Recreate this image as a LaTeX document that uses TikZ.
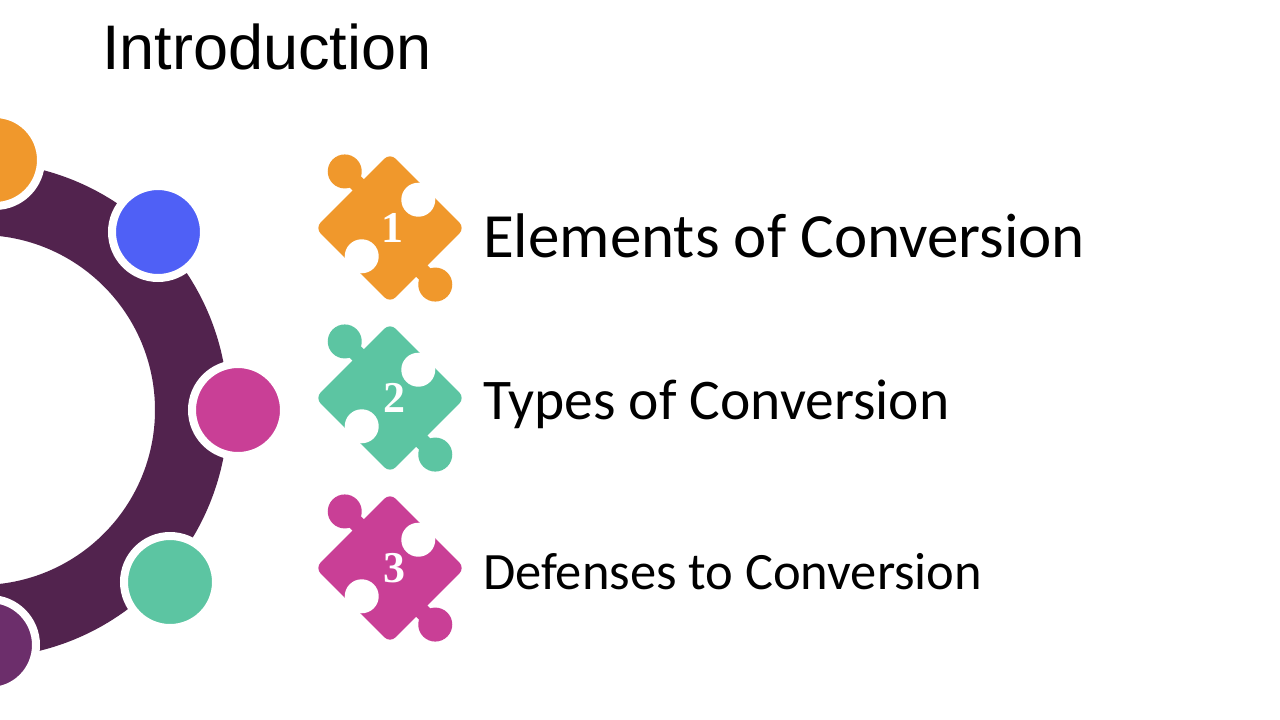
\documentclass[tikz,border=0pt]{standalone}
\usepackage{fontspec}
\setmainfont{Carlito}
\newfontfamily\arialf{Liberation Sans}
\newfontfamily\numf{Liberation Serif}
\definecolor{corange}{HTML}{F0982C}
\definecolor{cblue}{HTML}{4F60F6}
\definecolor{cpink}{HTML}{C93F96}
\definecolor{cgreen}{HTML}{5CC5A2}
\definecolor{cring}{HTML}{52234E}
\definecolor{cpurp}{HTML}{6C2E6B}
\tikzset{
  dot/.style={circle, fill=#1, draw=white, line width=8pt, minimum size=92pt, inner sep=0pt},
  lbl/.style={anchor=west, inner sep=0pt, text=black},
  pnum/.style={text=white, font=\numf\bfseries\fontsize{44}{44}\selectfont}
}
\newcommand{\puzzle}[3]{% x y colour
\begin{scope}[shift={(#1,#2)}, rotate=45]
  \fill[#3, rounded corners=8pt] (-53,-53) rectangle (53,53);
  \fill[#3] (0,-62) rectangle (16,-50);
  \fill[#3] (8,-72) circle (17pt);
  \fill[#3] (-16,62) rectangle (0,50);
  \fill[#3] (-8,72) circle (17pt);
  \fill[white] (-40,0) circle (17pt);
  \fill[white] (-56,-8) rectangle (-44,8);
  \fill[white] (40,0) circle (17pt);
  \fill[white] (56,-8) rectangle (44,8);
\end{scope}}
\begin{document}
\begin{tikzpicture}[x=1pt,y=-1pt]
\useasboundingbox (0,0) rectangle (1280,720);
\fill[white] (0,0) rectangle (1280,720);
\begin{scope}
\clip (0,0) rectangle (1280,720);
\fill[cring, even odd rule] (-20,410) circle (248pt) (-20,410) circle (175pt);
\node[dot=corange] (c1) at (-5,160) {};
\node[dot=cblue] (c2) at (158,232) {};
\node[dot=cpink] (c3) at (238,410) {};
\node[dot=cgreen] (c4) at (170,582) {};
\node[dot=cpurp] (c5) at (-10,645) {};
\end{scope}
\node[lbl, font=\arialf\fontsize{63}{63}\selectfont] (title) at (102,47) {Introduction};
\puzzle{390}{228}{corange}
\puzzle{390}{398}{cgreen}
\puzzle{390}{568}{cpink}
\node[pnum] (n1) at (392,228) {1};
\node[pnum] (n2) at (394,398) {2};
\node[pnum] (n3) at (394,568) {3};
\node[lbl, font=\fontsize{63}{63}\selectfont] (t1) at (483,236) {Elements of Conversion};
\node[lbl, font=\fontsize{57.5}{57.5}\selectfont] (t2) at (483,404) {Types of Conversion};
\node[lbl, font=\fontsize{52.5}{52.5}\selectfont] (t3) at (483,572) {Defenses to Conversion};
\end{tikzpicture}
\end{document}
